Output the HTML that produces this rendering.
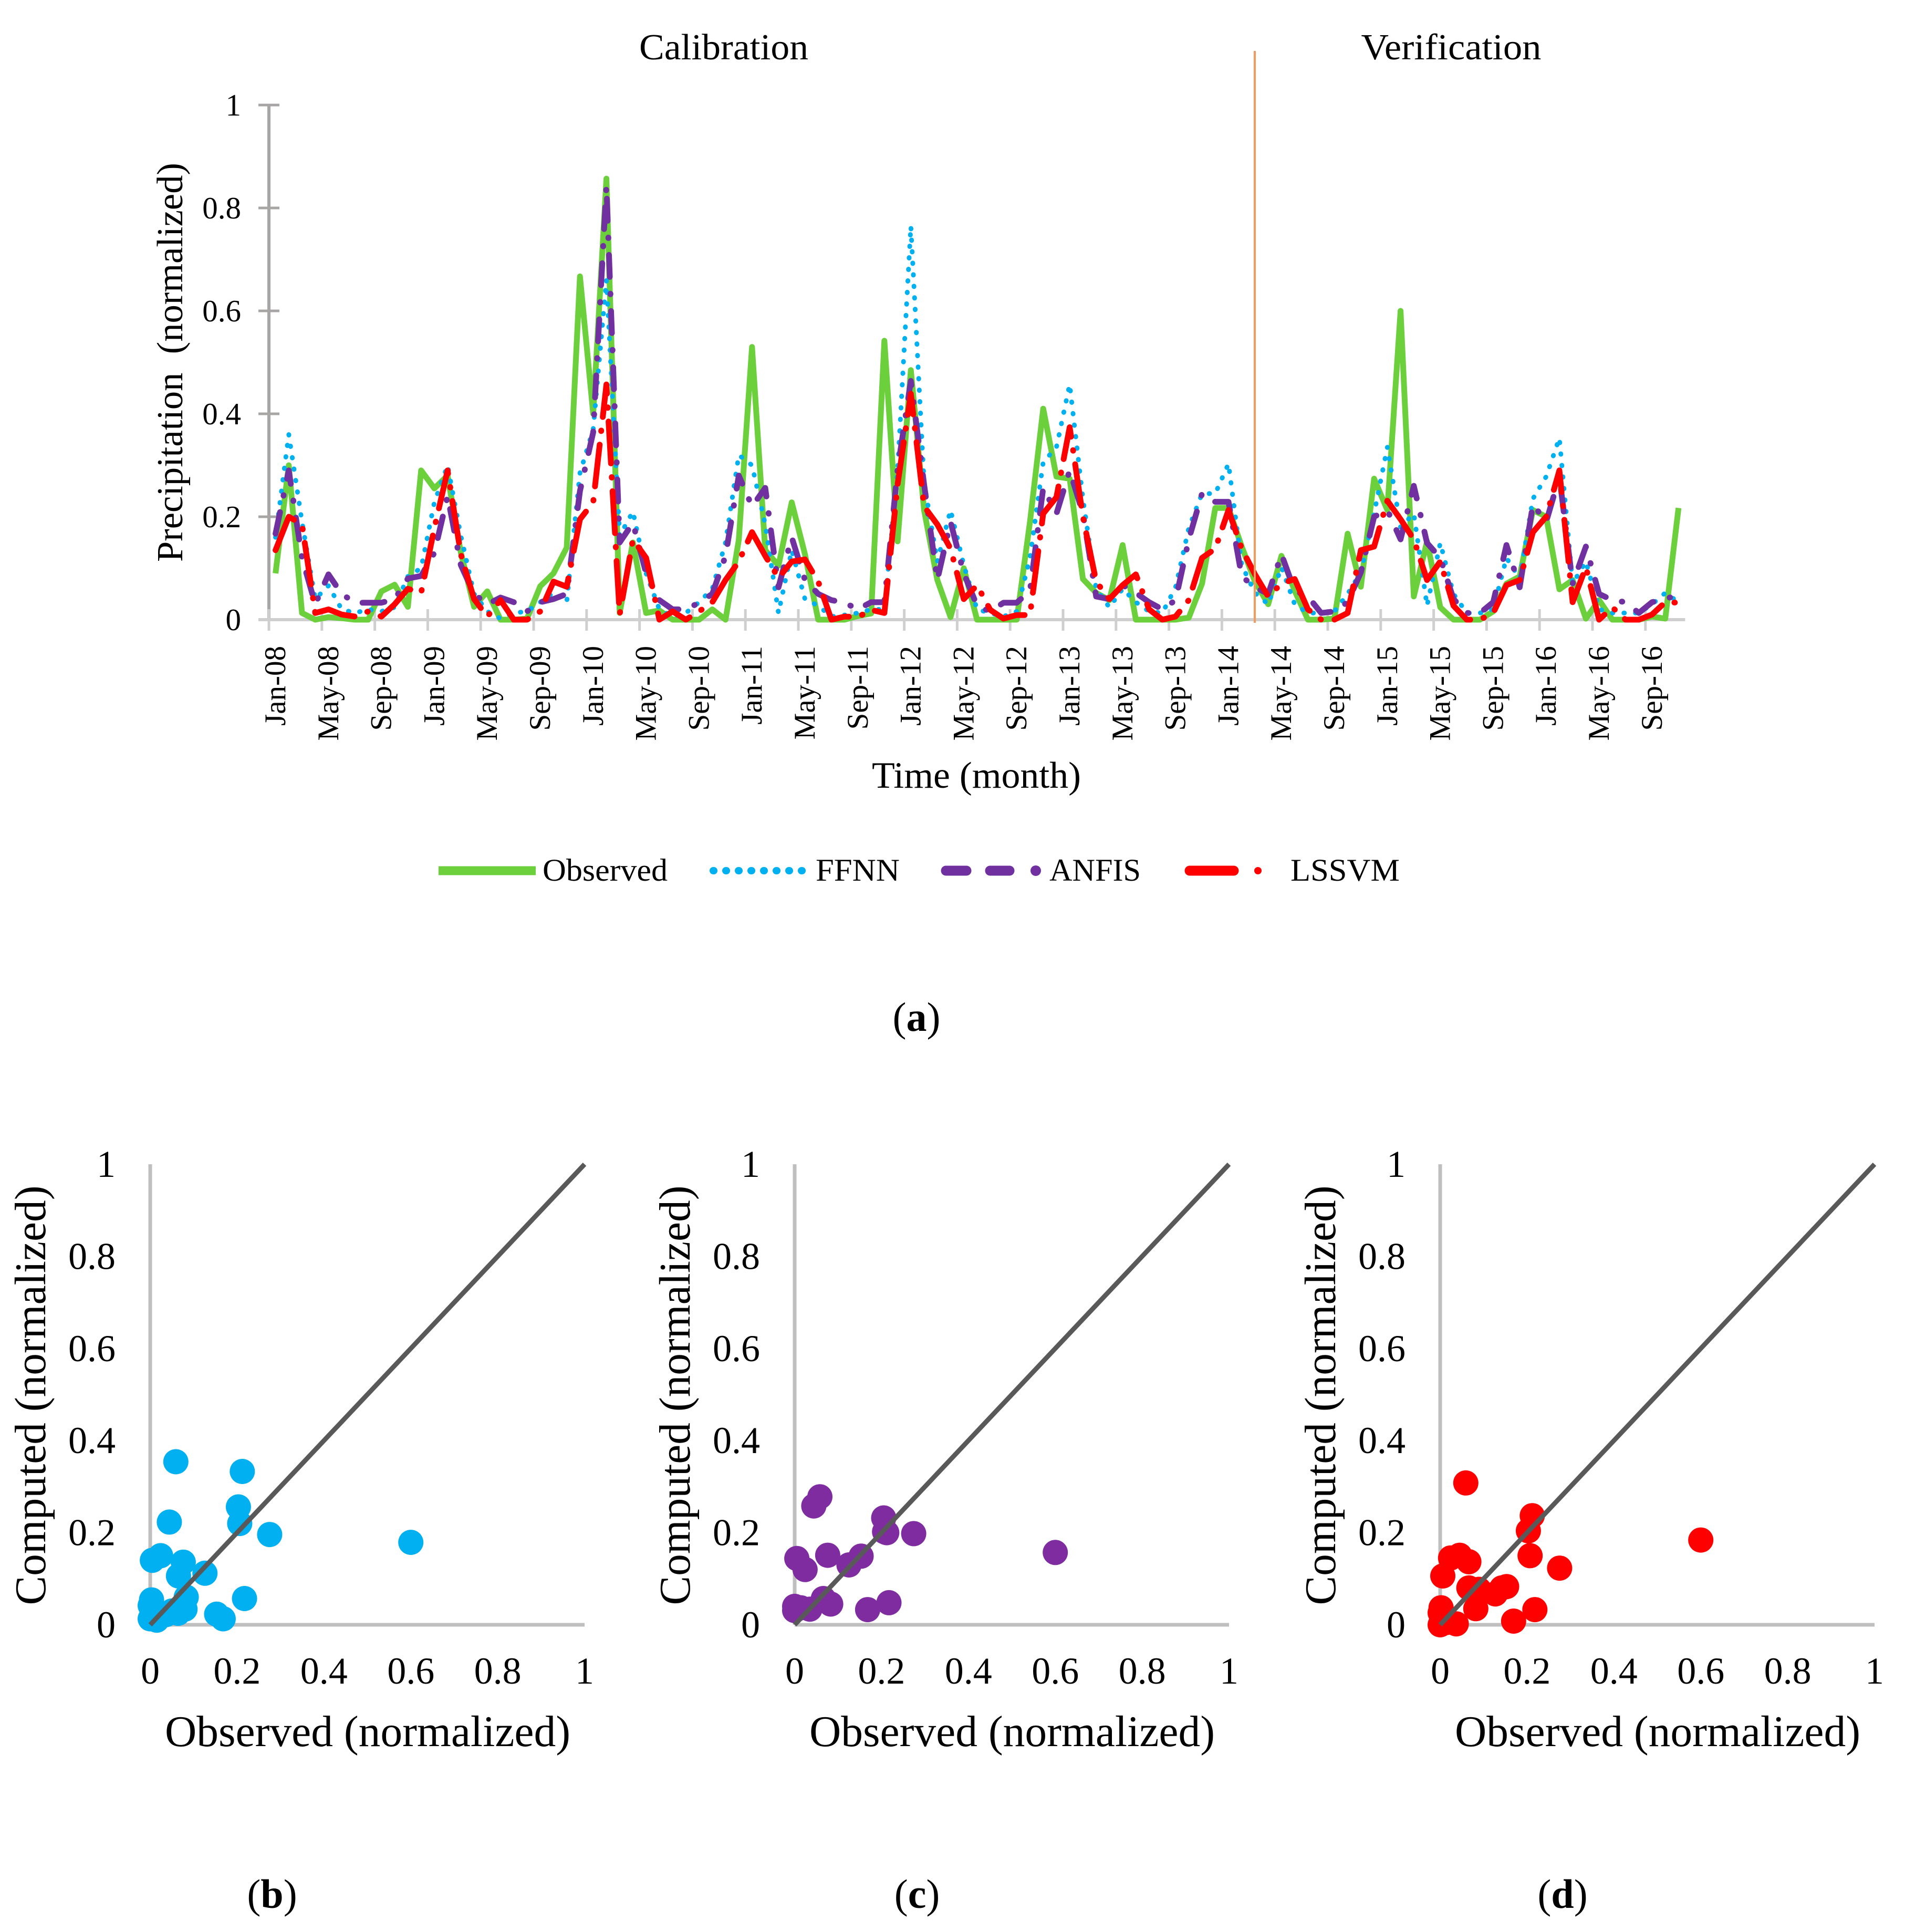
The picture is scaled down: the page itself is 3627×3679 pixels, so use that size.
<!DOCTYPE html>
<html lang="en">
<head>
<meta charset="utf-8">
<title>Precipitation: observed vs computed</title>
<style>
html,body{margin:0;padding:0;background:#fff;width:3627px;height:3679px;overflow:hidden}
svg{position:absolute;left:0;top:0;display:block}
text{font-family:"Liberation Serif",serif;fill:#000}
</style>
</head>
<body>
<svg id="figure" xmlns="http://www.w3.org/2000/svg" width="3627" height="3679" viewBox="0 0 3627 3679">
  <rect width="3627" height="3679" fill="#fff"/>
  <g id="panel-a"></g>
  <line x1="2389" y1="97" x2="2389" y2="1186" stroke="#f59a5e" stroke-width="4"/>
  <text x="1378" y="113" font-size="70" text-anchor="middle" textLength="322" lengthAdjust="spacingAndGlyphs">Calibration</text>
  <text x="2763" y="113" font-size="70" text-anchor="middle" textLength="343" lengthAdjust="spacingAndGlyphs">Verification</text>
  <text transform="translate(347 690) rotate(-90)" font-size="70" text-anchor="middle" textLength="760" lengthAdjust="spacingAndGlyphs" xml:space="preserve">Precipitation  (normalized)</text>
  <text x="1859" y="1500" font-size="71" text-anchor="middle" textLength="398" lengthAdjust="spacingAndGlyphs">Time (month)</text>

  <g>
    <line x1="835" y1="1658" x2="1020" y2="1658" stroke="#6ccf3c" stroke-width="17"/>
    <text x="1033" y="1677" font-size="60" textLength="238" lengthAdjust="spacingAndGlyphs">Observed</text>
    <line x1="1358" y1="1658" x2="1534" y2="1658" stroke="#00b0f0" stroke-width="14" stroke-linecap="round" stroke-dasharray="1 23"/>
    <text x="1553" y="1677" font-size="60" textLength="160" lengthAdjust="spacingAndGlyphs">FFNN</text>
    <line x1="1801" y1="1658" x2="1840" y2="1658" stroke="#7030a0" stroke-width="19" stroke-linecap="round"/>
    <line x1="1885" y1="1658" x2="1922" y2="1658" stroke="#7030a0" stroke-width="19" stroke-linecap="round"/>
    <circle cx="1972" cy="1658" r="10" fill="#7030a0"/>
    <text x="1998" y="1677" font-size="60" textLength="174" lengthAdjust="spacingAndGlyphs">ANFIS</text>
    <line x1="2265" y1="1658" x2="2349" y2="1658" stroke="#ff0000" stroke-width="19" stroke-linecap="round"/>
    <circle cx="2395" cy="1658" r="7" fill="#ff0000"/>
    <text x="2457" y="1677" font-size="60" textLength="208" lengthAdjust="spacingAndGlyphs">LSSVM</text>
  </g>

  <text x="1745" y="1963" font-size="78" text-anchor="middle">(<tspan font-weight="bold">a</tspan>)</text>
  <g id="panel-b"></g>
  <g id="panel-c"></g>
  <g id="panel-d"></g>
  <text x="518" y="3633" font-size="78" text-anchor="middle">(<tspan font-weight="bold">b</tspan>)</text>
  <text x="1746" y="3633" font-size="78" text-anchor="middle">(<tspan font-weight="bold">c</tspan>)</text>
  <text x="2975" y="3633" font-size="78" text-anchor="middle">(<tspan font-weight="bold">d</tspan>)</text>
</svg>
<script>
// Time series values, one per month
const observedSeries = [
  .09,.30,.013,0,.005,.003,0,0,.055,.068,
  .025,.29,.255,.28,.13,.025,.055,0,0,.002,
  .065,.09,.14,.667,.40,.857,.013,.15,.013,.018,
  0,0,0,.02,0,.155,.53,.135,.105,.228,
  .127,0,0,0,.007,.012,.542,.152,.485,.213,
  .077,.005,.1,0,0,0,0,.19,.41,.278,
  .274,.079,.052,.038,.145,0,0,0,0,.004,
  .07,.217,.217,.142,.074,.03,.124,.056,0,0,
  .002,.167,.064,.274,.213,.6,.045,.152,.024,0,
  0,0,.016,.07,.084,.213,.2,.059,.077,.002,
  .038,0,0,0,.006,.002,.217
];
const ffnnSeries = [
  .16,.36,.19,.04,.066,.02,.013,.02,.016,.024,
  .084,.1,.228,.30,.163,.05,.016,.002,.013,.016,
  .034,.052,.034,.285,.37,.66,.163,.21,.09,.02,
  .006,.013,.034,.06,.15,.32,.30,.185,.013,.135,
  .04,.027,.006,.009,.013,.02,.02,.29,.765,.267,
  .113,.213,.106,.02,.013,.006,.016,.12,.306,.335,
  .457,.235,.06,.024,.06,.034,.016,.013,.063,.178,
  .245,.245,.303,.106,.052,.03,.102,.03,.013,.013,
  .016,.05,.092,.206,.335,.18,.206,.027,.149,.05,
  .013,.013,.02,.12,.08,.235,.278,.353,.07,.113,
  .02,.013,.013,.013,.03,.052,.034
];
const anfisSeries = [
  .167,.29,.12,.03,.088,.05,.033,.033,.033,.04,
  .08,.085,.13,.24,.106,.05,.03,.043,.034,.016,
  .034,.04,.05,.25,.364,.843,.15,.188,.09,.038,
  .02,.02,.033,.05,.124,.28,.22,.256,.063,.16,
  .077,.05,.038,.033,.02,.034,.034,.292,.464,.263,
  .077,.19,.09,.027,.016,.033,.033,.056,.256,.206,
  .29,.206,.045,.04,.067,.052,.034,.02,.038,.156,
  .245,.229,.229,.084,.063,.05,.127,.056,.045,.013,
  .016,.034,.092,.2,.213,.156,.26,.149,.12,.04,
  .013,.013,.034,.145,.063,.224,.19,.278,.07,.142,
  .05,.038,.034,.013,.034,.04,.049
];
const lssvmSeries = [
  .135,.2,.185,.013,.02,.01,.006,.016,.006,.03,
  .06,.052,.178,.29,.127,.04,.006,.038,0,0,
  .016,.074,.064,.195,.228,.457,.01,.156,.12,0,
  .016,0,.016,.034,.077,.113,.17,.124,.081,.113,
  .117,.074,0,.006,.005,.019,.013,.263,.439,.22,
  .185,.138,.04,.067,.019,.002,.009,.009,.206,.238,
  .374,.2,.074,.04,.067,.088,.02,0,.006,.038,
  .12,.138,.213,.138,.088,.045,.07,.079,.02,0,
  0,.013,.135,.142,.231,.195,.156,.077,.113,.027,
  0,0,.013,.067,.077,.17,.2,.29,.034,.102,
  0,.024,0,0,.01,.034,.033
];
const monthLabels = ["Jan-08","May-08","Sep-08","Jan-09","May-09","Sep-09","Jan-10","May-10","Sep-10","Jan-11","May-11","Sep-11","Jan-12","May-12","Sep-12","Jan-13","May-13","Sep-13","Jan-14","May-14","Sep-14","Jan-15","May-15","Sep-15","Jan-16","May-16","Sep-16"];
const yTickLabels = ["0","0.2","0.4","0.6","0.8","1"];
const yTickValues = [0,.2,.4,.6,.8,1];

// Scatter values (verification period)
const ffnnObserved = [.059,.212,.203,.206,.275,.6,.044,.024,.005,.076,.065,.126,.217,.153,.168,.003,0,.083,.08,.064,.036,0,.015,.05];
const ffnnComputed = [.354,.333,.256,.22,.196,.179,.223,.15,.14,.136,.106,.112,.057,.023,.013,.054,.042,.06,.034,.025,.022,.013,.01,.03];
const anfisObserved = [.058,.044,.205,.207,.212,.274,.6,.005,.024,.076,.153,.125,.168,.217,.066,.083,.035,0,0,.014];
const anfisComputed = [.278,.258,.232,.202,.2,.198,.157,.144,.12,.151,.149,.13,.033,.048,.057,.045,.034,.04,.031,.037];
const lssvmObserved = [.059,.212,.203,.207,.275,.6,.024,.045,.066,.006,.066,.089,.082,.127,.153,.169,.218,.002,0,0,.037,.015,.142];
const lssvmComputed = [.308,.237,.204,.15,.123,.184,.145,.151,.137,.106,.08,.077,.035,.067,.083,.008,.033,.037,.026,0,.002,.005,.08];
const scatterTickLabels = ["0","0.2","0.4","0.6","0.8","1"];
const scatterTickValues = [0,.2,.4,.6,.8,1];

const SVG_NS = "http://www.w3.org/2000/svg";
function mk(parent, tag, attrs, content) {
  const el = document.createElementNS(SVG_NS, tag);
  for (const k in attrs) el.setAttribute(k, attrs[k]);
  if (content !== undefined) el.textContent = content;
  parent.appendChild(el);
  return el;
}

// ---- Panel (a) ----
const plotLeft = 512, monthStep = 25.2, zeroY = 1180, unitY = 980;
const xMonth = i => plotLeft + (i + .5) * monthStep;
const xEdge = i => plotLeft + i * monthStep;
const yVal = v => zeroY - unitY * v;
const panelA = document.getElementById("panel-a");

const yAxisLine = mk(panelA, "line", {x1: plotLeft, y1: yVal(1), x2: plotLeft, y2: zeroY, stroke: "#a8a5a5", "stroke-width": 6});


const xAxisLine = mk(panelA, "line", {x1: 492, y1: zeroY, x2: xEdge(observedSeries.length), y2: zeroY, stroke: "#cfcfcf", "stroke-width": 6});



yTickValues.forEach((v, k) => {
  const tick = mk(panelA, "line", {x1: 492, y1: yVal(v), x2: 532, y2: yVal(v), stroke: v === 0 ? "#cfcfcf" : "#a8a5a5", "stroke-width": 5});
  
  
  const label = mk(panelA, "text", {x: 459, y: yVal(v) + 20, "font-size": 59, "text-anchor": "end"}, yTickLabels[k]);
  
  
});

monthLabels.forEach((name, k) => {
  const tx = xEdge(k * 4);
  const tick = mk(panelA, "line", {x1: tx, y1: 1160, x2: tx, y2: 1201, stroke: "#cfcfcf", "stroke-width": 5});
  
  
  const label = mk(panelA, "text", {transform: "translate(" + (tx + 31) + " 1230) rotate(-90)", "font-size": 57, "text-anchor": "end"}, name);
  
  
});

function seriesPath(values) {
  return values.map((v, i) => (i ? "L" : "M") + xMonth(i).toFixed(1) + " " + yVal(v).toFixed(1)).join(" ");
}
const lineObserved = mk(panelA, "path", {d: seriesPath(observedSeries), fill: "none", stroke: "#6ccf3c", "stroke-width": 11, "stroke-linejoin": "round"});


const lineFfnn = mk(panelA, "path", {d: seriesPath(ffnnSeries), fill: "none", stroke: "#00b0f0", "stroke-width": 9, "stroke-linecap": "round", "stroke-linejoin": "round", "stroke-dasharray": "1 21"});


const lineAnfis = mk(panelA, "path", {d: seriesPath(anfisSeries), fill: "none", stroke: "#7030a0", "stroke-width": 11, "stroke-linecap": "round", "stroke-linejoin": "round", "stroke-dasharray": "42 32 1 32"});


const lineLssvm = mk(panelA, "path", {d: seriesPath(lssvmSeries), fill: "none", stroke: "#ff0000", "stroke-width": 11, "stroke-linecap": "round", "stroke-linejoin": "round", "stroke-dasharray": "80 26 1 26"});



// ---- Scatter panels ----
const scatterZeroY = 3094, scatterUnit = 877, scatterUnitX = 827;
function drawScatter(panelId, x0, observed, computed, color) {
  const g = document.getElementById(panelId);
  const sx = v => x0 + scatterUnitX * v;
  const sy = v => scatterZeroY - scatterUnit * v;

  const yAxis = mk(g, "line", {x1: x0, y1: sy(1), x2: x0, y2: scatterZeroY, stroke: "#bfbfbf", "stroke-width": 7});
  
  
  const xAxis = mk(g, "line", {x1: x0, y1: scatterZeroY, x2: sx(1), y2: scatterZeroY, stroke: "#bfbfbf", "stroke-width": 7});
  
  

  scatterTickValues.forEach((v, k) => {
    const yl = mk(g, "text", {x: x0 - 66, y: sy(v) + 24, "font-size": 72, "text-anchor": "end"}, scatterTickLabels[k]);
    
    
    const xl = mk(g, "text", {x: sx(v), y: 3206, "font-size": 72, "text-anchor": "middle"}, scatterTickLabels[k]);
    
    
  });

  observed.forEach((o, i) => {
    const dot = mk(g, "circle", {cx: sx(o).toFixed(1), cy: sy(computed[i]).toFixed(1), r: 24, fill: color});
    
    
  });

  const diag = mk(g, "line", {x1: sx(0), y1: sy(0), x2: sx(1), y2: sy(1), stroke: "#595959", "stroke-width": 9});
  
  

  const xt = mk(g, "text", {x: x0 + 414, y: 3325, "font-size": 84, "text-anchor": "middle", textLength: 772, lengthAdjust: "spacingAndGlyphs"}, "Observed (normalized)");
  
  
  const yt = mk(g, "text", {transform: "translate(" + (x0 - 200) + " 2657) rotate(-90)", "font-size": 84, "text-anchor": "middle", textLength: 799, lengthAdjust: "spacingAndGlyphs"}, "Computed (normalized)");
  
  
}
drawScatter("panel-b", 286, ffnnObserved, ffnnComputed, "#00b0f0");
drawScatter("panel-c", 1517 - 4, anfisObserved, anfisComputed, "#7f2ca0");
drawScatter("panel-d", 2748 - 6, lssvmObserved, lssvmComputed, "#ff0000");
</script>
</body>
</html>
